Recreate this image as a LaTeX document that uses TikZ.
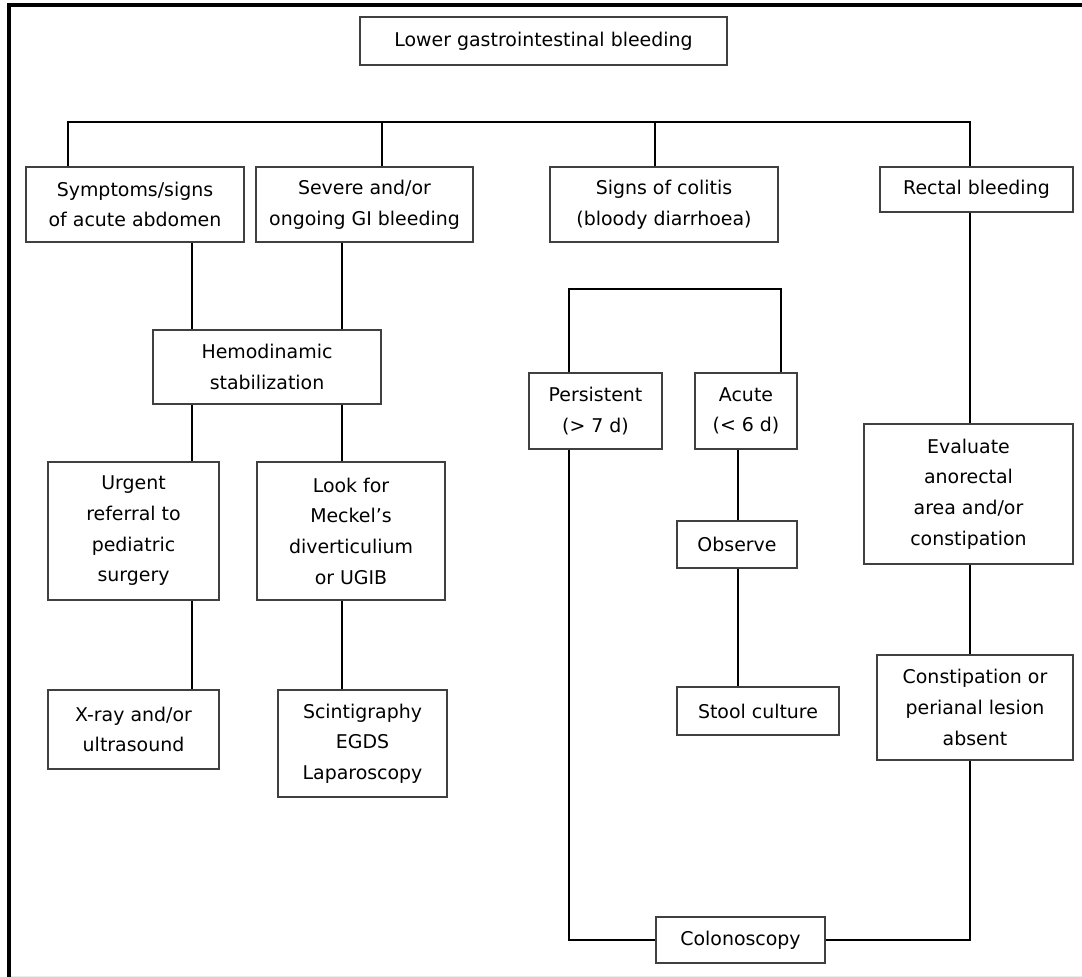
\documentclass[tikz,border=0pt]{standalone}
\usepackage{fontspec}
\setmainfont{DejaVu Sans}
\begin{document}
\begin{tikzpicture}[x=0.75pt,y=-0.75pt,
      box/.style={draw=black!75,line width=0.8pt,align=center,inner sep=0pt,
        font=\fontsize{14.2}{23}\selectfont},
      wh/.style 2 args={minimum width=#1*0.75pt,minimum height=#2*0.75pt},
      link/.style={line width=0.8pt}]
  \useasboundingbox (0,0) rectangle (1082,977);
  \draw[line width=3pt] (9,977) -- (9,5) -- (1082,5);
  \draw[black!8] (11,976) -- (1082,976);

  \node[box,wh={367}{48}] (lgib) at (543.5,41) {Lower gastrointestinal bleeding};
  \node[box,wh={218}{75}] (symp) at (135,204.5) {Symptoms/signs\\of acute abdomen};
  \node[box,wh={217}{75}] (severe) at (364.5,204.5) {Severe and/or\\ongoing GI bleeding};
  \node[box,wh={228}{75}] (colitis) at (664,204.5) {Signs of colitis\\(bloody diarrhoea)};
  \node[box,wh={193}{45}] (rectal) at (976.5,189.5) {Rectal bleeding};
  \node[box,wh={228}{74}] (hemo) at (267,367) {Hemodinamic\\stabilization};
  \node[box,wh={171}{138}] (urgent) at (133.5,531) {Urgent\\referral to\\pediatric\\surgery};
  \node[box,wh={188}{138}] (look) at (351,531) {Look for\\Meckel’s\\diverticulium\\or UGIB};
  \node[box,wh={171}{79}] (xray) at (133.5,729.5) {X-ray and/or\\ultrasound};
  \node[box,wh={169}{107}] (scint) at (362.5,743.5) {Scintigraphy\\EGDS\\Laparoscopy};
  \node[box,wh={133}{76}] (persist) at (595.5,411) {Persistent\\(> 7 d)};
  \node[box,wh={102}{76}] (acute) at (746,411) {Acute\\(< 6 d)};
  \node[box,wh={120}{47}] (observe) at (737,544.5) {Observe};
  \node[box,wh={162}{48}] (stool) at (758,711) {Stool culture};
  \node[box,wh={169}{46}] (colono) at (740.5,940) {Colonoscopy};
  \node[box,wh={209}{140}] (evaluate) at (968.5,494) {Evaluate\\anorectal\\area and/or\\constipation};
  \node[box,wh={196}{105}] (constip) at (975,707.5) {Constipation or\\perianal lesion\\absent};

  \coordinate (busl) at (68,122);
  \coordinate (busr) at (970,122);
  \draw[link] (symp.north -| busl) -- (busl) -- (busr) -- (rectal.north -| busr);
  \draw[link] (severe.north -| 382,0) -- (busl -| 382,0);
  \draw[link] (colitis.north -| 655,0) -- (busl -| 655,0);

  \draw[link] (symp.south -| 192,0) -- (hemo.north -| 192,0);
  \draw[link] (severe.south -| 342,0) -- (hemo.north -| 342,0);
  \draw[link] (hemo.south -| 192,0) -- (urgent.north -| 192,0);
  \draw[link] (hemo.south -| 342,0) -- (look.north -| 342,0);
  \draw[link] (urgent.south -| 192,0) -- (xray.north -| 192,0);
  \draw[link] (look.south -| 342,0) -- (scint.north -| 342,0);

  \draw[link] (persist.north -| 569,0) |- (781,289) -- (acute.north -| 781,0);
  \draw[link] (acute.south -| 738,0) -- (observe.north -| 738,0);
  \draw[link] (observe.south -| 738,0) -- (stool.north -| 738,0);
  \draw[link] (persist.south -| 569,0) |- (colono.west);

  \draw[link] (rectal.south -| busr) -- (evaluate.north -| busr);
  \draw[link] (evaluate.south -| busr) -- (constip.north -| busr);
  \draw[link] (constip.south -| busr) |- (colono.east);
\end{tikzpicture}
\end{document}
